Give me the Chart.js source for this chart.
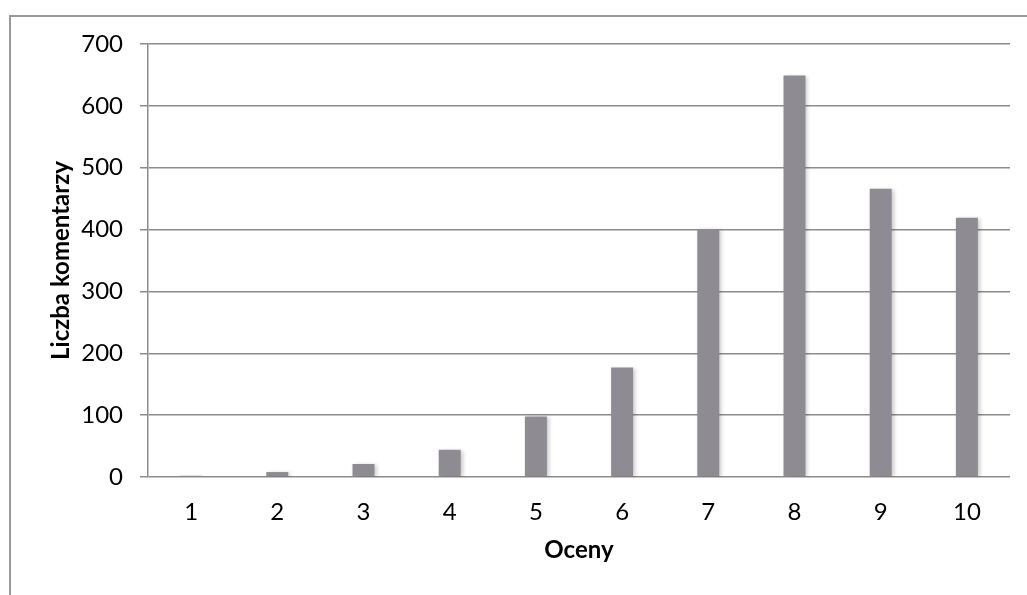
<!DOCTYPE html>
<html>
<head>
<meta charset="utf-8">
<script src="https://cdn.jsdelivr.net/npm/chart.js@4"></script>
<style>
    html, body { margin: 0; padding: 0; background: #fff; overflow: hidden; }
    #caixa { position: relative; width: 1027px; height: 595px; overflow: hidden; }
    #moldura {
        position: absolute; left: 9px; top: 15px; width: 1100px; height: 700px;
        border-left: 2px solid #9a9a9a; border-top: 2px solid #9a9a9a;
    }
    #graficoOceny { position: absolute; left: 0; top: 0; }
</style>
</head>
<body>
<div id="caixa">
    <div id="moldura"></div>
    <canvas id="graficoOceny" width="1027" height="595"></canvas>
</div>
<script>
// dados
const oceny = ['1', '2', '3', '4', '5', '6', '7', '8', '9', '10'];
const liczbaKomentarzy = [2, 8, 21, 44, 98, 177, 401, 649, 466, 419];
const tickiY = [0, 100, 200, 300, 400, 500, 600, 700];

const corBarra = '#8e8b92';
const corGrade = '#8c8c8c';
const fonte = 'Lato, "Open Sans", sans-serif';

// sombra leve nas barras
const sombraPlugin = {
    id: 'sombra',
    beforeDatasetsDraw(chart) {
        const ctx = chart.ctx;
        ctx.save();
        ctx.shadowColor = 'rgba(0,0,0,0.22)';
        ctx.shadowBlur = 4;
        ctx.shadowOffsetX = 2;
        ctx.shadowOffsetY = 1;
    },
    afterDatasetsDraw(chart) {
        chart.ctx.restore();
    }
};

const config = {
    type: 'bar',
    data: {
        labels: oceny,
        datasets: [{
            label: 'Liczba komentarzy',
            data: liczbaKomentarzy,
            backgroundColor: corBarra,
            borderWidth: 0,
            categoryPercentage: 1,
            barPercentage: 0.255
        }]
    },
    options: {
        responsive: false,
        animation: false,
        layout: { padding: { left: 0, top: 44, right: 17, bottom: 0 } },
        plugins: {
            legend: { display: false },
            tooltip: { enabled: false }
        },
        scales: {
            x: {
                grid: { display: false, drawTicks: false },
                border: { display: false },
                ticks: {
                    color: '#000',
                    padding: 21,
                    font: { family: fonte, size: 24 }
                },
                title: {
                    display: true,
                    text: 'Oceny',
                    color: '#000',
                    padding: { top: 0, bottom: 30 },
                    font: { family: fonte, size: 24, weight: 'bold' }
                },
                afterFit(scale) { scale.height = 118; }
            },
            y: {
                min: 0,
                max: 700,
                afterBuildTicks(scale) {
                    scale.ticks = tickiY.map(v => ({ value: v }));
                },
                grid: {
                    color: corGrade,
                    lineWidth: 1.5,
                    tickLength: 8,
                    tickColor: corGrade
                },
                border: { display: true, color: corGrade, width: 1.5 },
                ticks: {
                    color: '#000',
                    padding: 17,
                    font: { family: fonte, size: 24 }
                },
                title: {
                    display: true,
                    text: 'Liczba komentarzy',
                    color: '#000',
                    padding: { top: 47, bottom: 0 },
                    font: { family: fonte, size: 24, weight: 'bold' }
                },
                afterFit(scale) { scale.width = 148; }
            }
        }
    },
    plugins: [sombraPlugin]
};

let meuGrafico = new Chart(document.getElementById('graficoOceny'), config);
</script>
</body>
</html>
